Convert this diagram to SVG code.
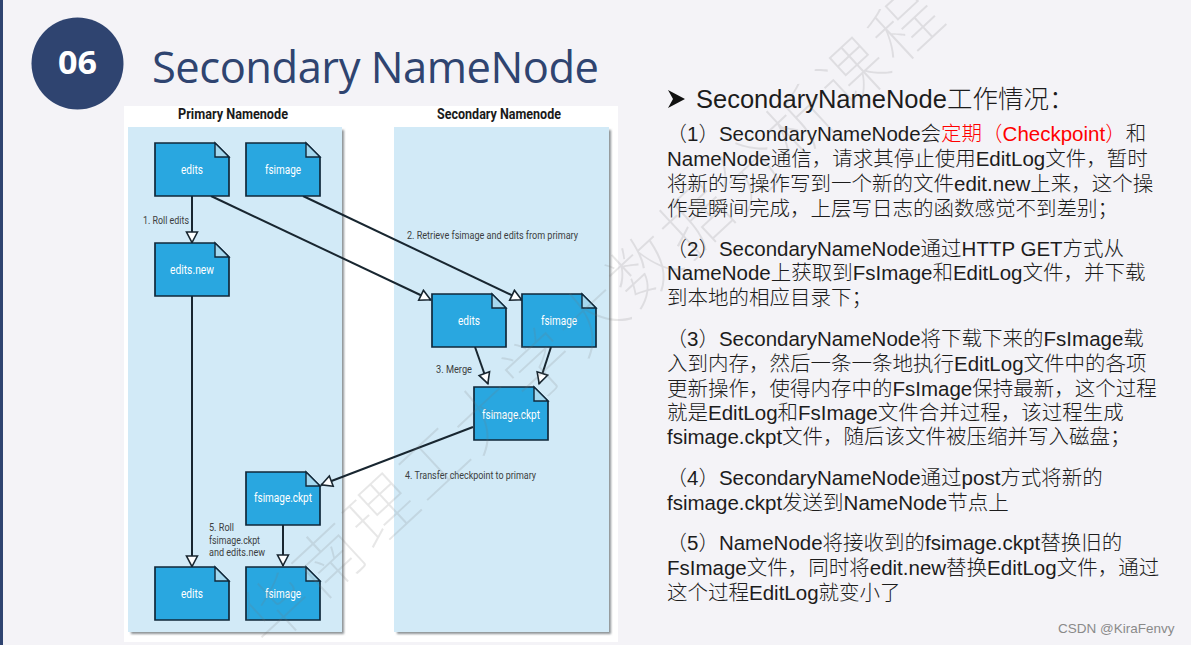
<svg xmlns="http://www.w3.org/2000/svg" width="1191" height="645" viewBox="0 0 1191 645">
<style>
.doc{fill:#29a7e0;stroke:#10283a;stroke-width:1.7}
.fold{fill:#a5d8ef;stroke:#10283a;stroke-width:1.4}
.dl{font:400 13.5px Roboto,"Liberation Sans",sans-serif;fill:#fff;text-anchor:middle}
.cl{font:400 11.500px Roboto,"Liberation Sans",sans-serif;fill:#3c3e40}
.ph{font:700 14px Roboto,"Liberation Sans",sans-serif;fill:#1a1a1a;text-anchor:middle}
.c{fill:none;stroke:#182630;stroke-width:2;marker-end:url(#a)}
.t{font:300 20.500px "Liberation Sans","Noto Sans CJK SC",sans-serif;fill:#1c1c1c}
.panel{fill:#d2eaf7}
.sh{fill:#8d9396;filter:url(#b)}
</style>
<defs>
<marker id="a" markerUnits="userSpaceOnUse" markerWidth="16" markerHeight="16" refX="12.500" refY="7" orient="auto"><path d="M1.500 1.500L12 7L1.500 12.500Z" fill="#fff" stroke="#182630" stroke-width="1.6"/></marker>
<filter id="b" x="-5%" y="-5%" width="110%" height="110%"><feGaussianBlur stdDeviation="1.2"/></filter>
<path id="d" d="M0 0H60L74 14V53H0Z"/>
</defs>
<rect width="1191" height="645" fill="#f4f3f7"/>
<rect width="3" height="645" fill="#2f4470"/>
<g id="badge"><ellipse cx="77.500" cy="63.500" rx="46" ry="46" fill="#2f4470"/><text x="77.500" y="74" font-family="Open Sans,sans-serif" font-weight="700" font-size="32" fill="#fff" text-anchor="middle" textLength="39" lengthAdjust="spacingAndGlyphs">06</text></g>
<text id="title" x="152" y="83" font-family="Open Sans,sans-serif" font-size="43.500" fill="#2f4470" textLength="447">Secondary NameNode</text>
<rect x="124" y="106" width="494" height="536" fill="#fff"/>
<rect class="sh" x="131" y="130" width="213" height="504"/>
<rect class="sh" x="397" y="130" width="214" height="504"/>
<rect class="panel" x="128" y="127" width="214" height="505"/>
<rect class="panel" x="394" y="127" width="215" height="505"/>
<text class="ph" x="233" y="119" textLength="110" lengthAdjust="spacingAndGlyphs">Primary Namenode</text>
<text class="ph" x="499" y="119" textLength="124" lengthAdjust="spacingAndGlyphs">Secondary Namenode</text>
<g id="connectors">
<path class="c" d="M192 196V243"/>
<path class="c" d="M211 196L431 300"/>
<path class="c" d="M303 196L522 300"/>
<path class="c" d="M192 296V567"/>
<path class="c" d="M475 347L488 384"/>
<path class="c" d="M551 347L539 384"/>
<path class="c" d="M473 427L321 485"/>
<path class="c" d="M283 524V566"/>
</g>
<g id="n1"><use href="#d" class="doc" x="155" y="143"/><path class="fold" d="M215 143L229 157H215Z"/><text class="dl" x="192" y="174" textLength="22" lengthAdjust="spacingAndGlyphs">edits</text></g>
<g id="n2"><use href="#d" class="doc" x="246" y="143"/><path class="fold" d="M306 143L320 157H306Z"/><text class="dl" x="283" y="174" textLength="36" lengthAdjust="spacingAndGlyphs">fsimage</text></g>
<g id="n3"><use href="#d" class="doc" x="155" y="243"/><path class="fold" d="M215 243L229 257H215Z"/><text class="dl" x="192" y="274" textLength="44" lengthAdjust="spacingAndGlyphs">edits.new</text></g>
<g id="n4"><use href="#d" class="doc" x="432" y="294"/><path class="fold" d="M492 294L506 308H492Z"/><text class="dl" x="469" y="325" textLength="22" lengthAdjust="spacingAndGlyphs">edits</text></g>
<g id="n5"><use href="#d" class="doc" x="522" y="294"/><path class="fold" d="M582 294L596 308H582Z"/><text class="dl" x="559" y="325" textLength="36" lengthAdjust="spacingAndGlyphs">fsimage</text></g>
<g id="n6"><use href="#d" class="doc" x="474" y="387"/><path class="fold" d="M534 387L548 401H534Z"/><text class="dl" x="511" y="419" textLength="58" lengthAdjust="spacingAndGlyphs">fsimage.ckpt</text></g>
<g id="n7"><use href="#d" class="doc" x="246" y="472"/><path class="fold" d="M306 472L320 486H306Z"/><text class="dl" x="283" y="502" textLength="58" lengthAdjust="spacingAndGlyphs">fsimage.ckpt</text></g>
<g id="n8"><use href="#d" class="doc" x="155" y="567"/><path class="fold" d="M215 567L229 581H215Z"/><text class="dl" x="192" y="598" textLength="22" lengthAdjust="spacingAndGlyphs">edits</text></g>
<g id="n9"><use href="#d" class="doc" x="246" y="567"/><path class="fold" d="M306 567L320 581H306Z"/><text class="dl" x="283" y="598" textLength="36" lengthAdjust="spacingAndGlyphs">fsimage</text></g>
<g id="labels">
<text class="cl" x="143" y="224" textLength="46" lengthAdjust="spacingAndGlyphs">1. Roll edits</text>
<text class="cl" x="407" y="239" textLength="171" lengthAdjust="spacingAndGlyphs">2. Retrieve fsimage and edits from primary</text>
<text class="cl" x="436" y="373" textLength="36" lengthAdjust="spacingAndGlyphs">3. Merge</text>
<text class="cl" x="405" y="479" textLength="131" lengthAdjust="spacingAndGlyphs">4. Transfer checkpoint to primary</text>
<text class="cl" x="209" y="531" textLength="25" lengthAdjust="spacingAndGlyphs">5. Roll</text>
<text class="cl" x="209" y="544" textLength="51" lengthAdjust="spacingAndGlyphs">fsimage.ckpt</text>
<text class="cl" x="209" y="556" textLength="56" lengthAdjust="spacingAndGlyphs">and edits.new</text>
</g>
<g id="content">
<path d="M668 90L685 99L668 108L673 99Z" fill="#111"/>
<text class="t" x="696" y="108" style="font-size:25.500px">SecondaryNameNode工作情况：</text>
<text class="t" x="666.500" y="141">（1）SecondaryNameNode会<tspan fill="#f00">定期（Checkpoint）</tspan>和</text>
<text class="t" x="667" y="166">NameNode通信，请求其停止使用EditLog文件，暂时</text>
<text class="t" x="667" y="191">将新的写操作写到一个新的文件edit.new上来，这个操</text>
<text class="t" x="667" y="216">作是瞬间完成，上层写日志的函数感觉不到差别；</text>
<text class="t" x="666.500" y="256">（2）SecondaryNameNode通过HTTP GET方式从</text>
<text class="t" x="667" y="280">NameNode上获取到FsImage和EditLog文件，并下载</text>
<text class="t" x="667" y="305">到本地的相应目录下；</text>
<text class="t" x="666.500" y="346">（3）SecondaryNameNode将下载下来的FsImage载</text>
<text class="t" x="667" y="371">入到内存，然后一条一条地执行EditLog文件中的各项</text>
<text class="t" x="667" y="396">更新操作，使得内存中的FsImage保持最新，这个过程</text>
<text class="t" x="667" y="420">就是EditLog和FsImage文件合并过程，该过程生成</text>
<text class="t" x="667" y="444">fsimage.ckpt文件，随后该文件被压缩并写入磁盘；</text>
<text class="t" x="666.500" y="485">（4）SecondaryNameNode通过post方式将新的</text>
<text class="t" x="667" y="510">fsimage.ckpt发送到NameNode节点上</text>
<text class="t" x="666.500" y="550">（5）NameNode将接收到的fsimage.ckpt替换旧的</text>
<text class="t" x="667" y="575">FsImage文件，同时将edit.new替换EditLog文件，通过</text>
<text class="t" x="667" y="600">这个过程EditLog就变小了</text>
</g>
<text id="watermark" transform="translate(268 650) rotate(-42.800)" font-family="Noto Sans CJK SC,sans-serif" font-weight="100" font-size="68" letter-spacing="3.500" fill="#777" opacity=".17">华南理工大学大数据分析课程</text>
<text x="1058" y="633" font-family="Liberation Sans,sans-serif" font-size="13.500" fill="#8a8a8a">CSDN @KiraFenvy</text>
</svg>
